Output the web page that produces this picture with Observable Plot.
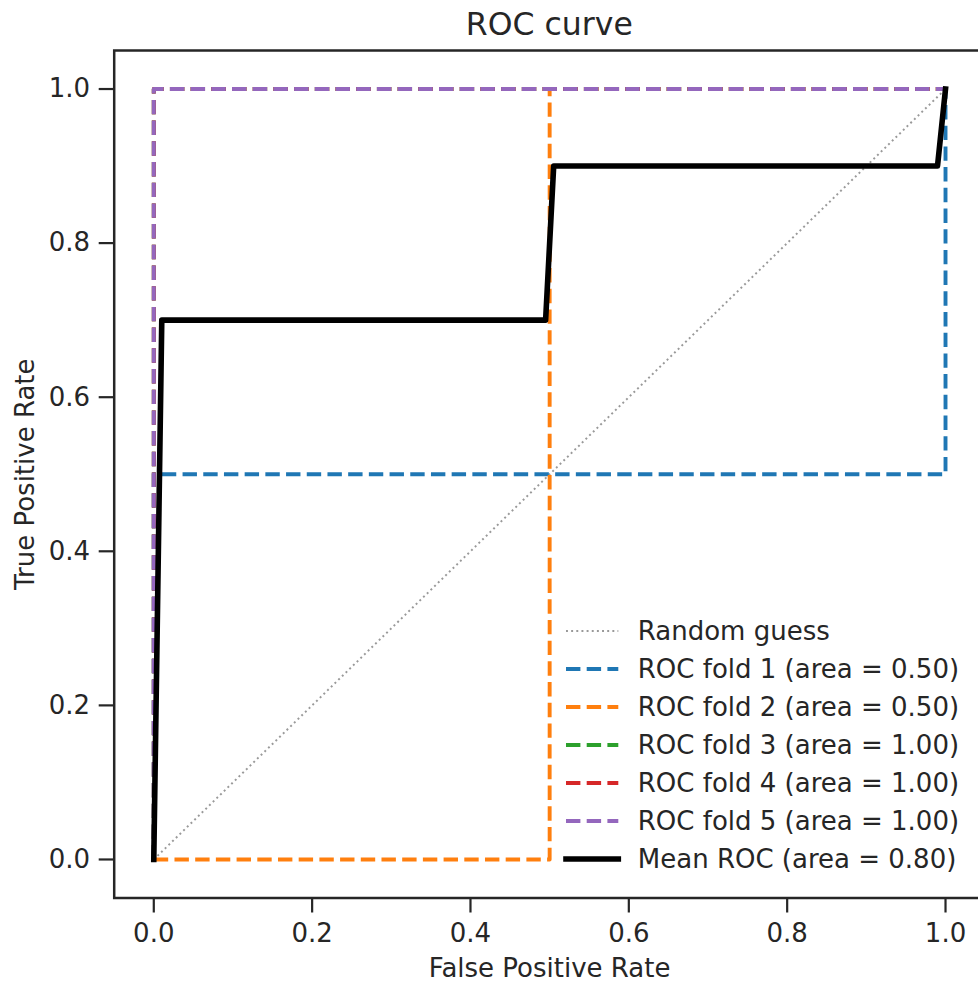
<!DOCTYPE html>
<html>
<head>
<meta charset="utf-8">
<script src="https://cdn.jsdelivr.net/npm/d3@7"></script>
<script src="https://cdn.jsdelivr.net/npm/@observablehq/plot@0.6"></script>
<style>
  html, body { margin: 0; padding: 0; background: #fff; overflow: hidden; }
  #wrap { position: relative; width: 978px; height: 984px; overflow: hidden; font-family: "DejaVu Sans", sans-serif; color: #262626; }
  #chart svg { max-width: none !important; display: block; }
  #title { position: absolute; left: 549.3px; top: 9.4px; transform: translateX(-50%); font-size: 31.5px; line-height: 31.5px; white-space: nowrap; }
  #legend { position: absolute; left: 566px; top: 611.6px; }
  .row { display: flex; align-items: center; height: 38.1px; }
  .row svg { display: block; overflow: visible; }
  .row span { margin-left: 19.5px; font-size: 26px; line-height: 38.1px; white-space: nowrap; }
</style>
</head>
<body>
<div id="wrap">
  <div id="chart"></div>
  <div id="title">ROC curve</div>
  <div id="legend"></div>
</div>
<script>
// ---- data ----
const randomFpr = [0, 1];
const randomTpr = [0, 1];

const fold1Fpr = [0, 0, 1, 1];
const fold1Tpr = [0, 0.5, 0.5, 1];
const fold2Fpr = [0, 0.5, 0.5, 1];
const fold2Tpr = [0, 0, 1, 1];
const fold3Fpr = [0, 0, 1];
const fold3Tpr = [0, 1, 1];
const fold4Fpr = [0, 0, 1];
const fold4Tpr = [0, 1, 1];
const fold5Fpr = [0, 0, 1];
const fold5Tpr = [0, 1, 1];

const meanFpr = [0, 0.0101, 0.4949, 0.5051, 0.9899, 1.0];
const meanTpr = [0, 0.7, 0.7, 0.9, 0.9, 1.0];

const foldColors = ["#1f77b4", "#ff7f0e", "#2ca02c", "#d62728", "#9467bd"];
const legendLabels = [
  "Random guess",
  "ROC fold 1 (area = 0.50)",
  "ROC fold 2 (area = 0.50)",
  "ROC fold 3 (area = 1.00)",
  "ROC fold 4 (area = 1.00)",
  "ROC fold 5 (area = 1.00)",
  "Mean ROC (area = 0.80)"
];
const xTicks = [0, 0.2, 0.4, 0.6, 0.8, 1.0];
const yTicks = [0, 0.2, 0.4, 0.6, 0.8, 1.0];

// ---- build tables ----
const toRows = (xs, ys) => xs.map((x, i) => ({x, y: ys[i]}));
const folds = [
  toRows(fold1Fpr, fold1Tpr),
  toRows(fold2Fpr, fold2Tpr),
  toRows(fold3Fpr, fold3Tpr),
  toRows(fold4Fpr, fold4Tpr),
  toRows(fold5Fpr, fold5Tpr)
];

const dashW = 3.9;
const dash = "14.4,6.3";
const dotW = 1.95;
const dot = "1.95,3.2";
const meanW = 5.6;

const chart = Plot.plot({
  width: 990,
  height: 984,
  marginLeft: 113.7,
  marginRight: 5.4,
  marginTop: 50,
  marginBottom: 86.5,
  x: {domain: [-0.05, 1.05]},
  y: {domain: [-0.05, 1.05]},
  style: {fontFamily: "DejaVu Sans", color: "#262626", background: "white"},
  marks: [
    Plot.line(toRows(randomFpr, randomTpr), {x: "x", y: "y", stroke: "grey", strokeOpacity: 0.8, strokeWidth: dotW, strokeDasharray: dot, strokeLinecap: "butt"}),
    ...folds.map((rows, i) => Plot.line(rows, {x: "x", y: "y", stroke: foldColors[i], strokeWidth: dashW, strokeDasharray: dash, strokeLinecap: "butt", strokeLinejoin: "round"})),
    Plot.line(toRows(meanFpr, meanTpr), {x: "x", y: "y", stroke: "black", strokeWidth: meanW, strokeLinecap: "square", strokeLinejoin: "round"}),
    Plot.axisX({ticks: xTicks, tickFormat: d3.format(".1f"), tickSize: 15, tickPadding: 10.8, fontSize: 26, strokeWidth: 2.2,
      label: "False Positive Rate", labelAnchor: "center", labelOffset: 78.5, labelArrow: "none"}),
    Plot.axisY({ticks: yTicks, tickFormat: d3.format(".1f"), tickSize: 15, tickPadding: 9.2, fontSize: 26, strokeWidth: 2.2,
      label: "True Positive Rate", labelAnchor: "center", labelOffset: 99, labelArrow: "none"}),
    Plot.frame({stroke: "#262626", strokeWidth: 2.5})
  ]
});
document.getElementById("chart").appendChild(chart);

// ---- legend ----
const legendStyles = [
  {color: "grey", opacity: 0.8, width: dotW, dash: dot, cap: "butt"},
  ...foldColors.map(c => ({color: c, opacity: 1, width: dashW, dash: dash, cap: "butt"})),
  {color: "black", opacity: 1, width: meanW, dash: null, cap: "square"}
];
const legend = document.getElementById("legend");
legendLabels.forEach((lab, i) => {
  const s = legendStyles[i];
  const row = document.createElement("div");
  row.className = "row";
  row.innerHTML =
    `<svg width="52.3" height="38.1"><line x1="0" x2="52.3" y1="19.05" y2="19.05" stroke="${s.color}" stroke-opacity="${s.opacity}" stroke-width="${s.width}" ${s.dash ? `stroke-dasharray="${s.dash}"` : ""} stroke-linecap="${s.cap}"/></svg>` +
    `<span></span>`;
  row.querySelector("span").textContent = lab;
  legend.appendChild(row);
});
</script>
</body>
</html>
